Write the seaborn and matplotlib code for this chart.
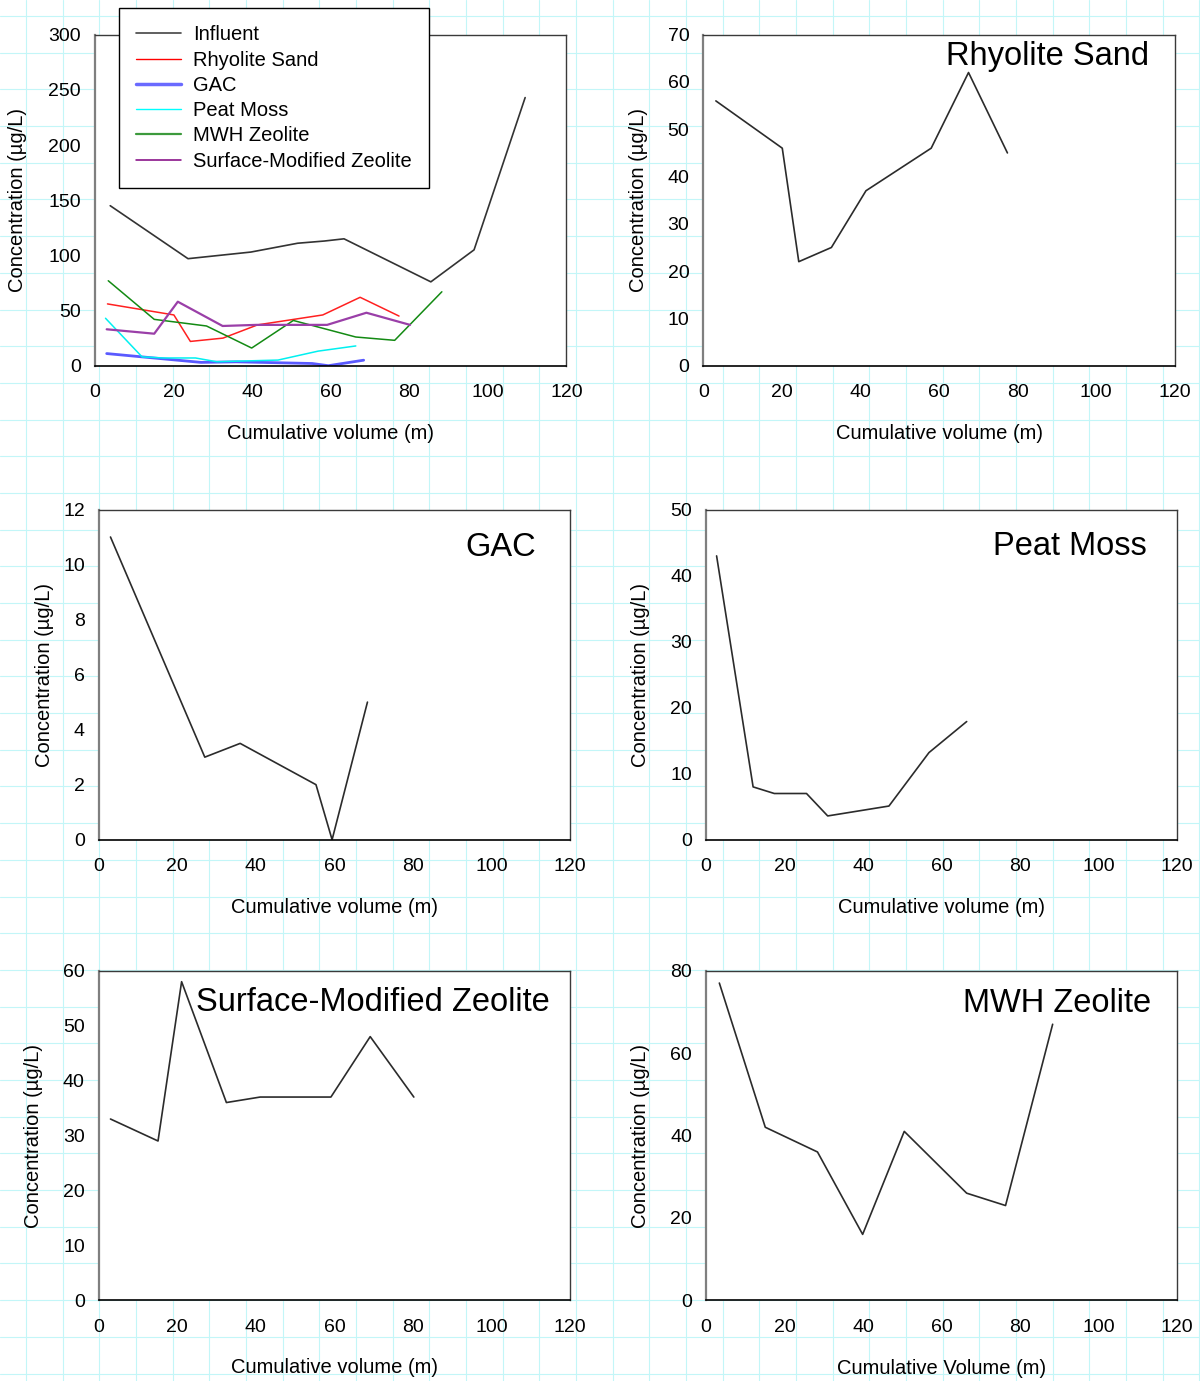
import numpy as np
import pandas as pd
import matplotlib
matplotlib.use("Agg")
import matplotlib.pyplot as plt
from matplotlib.lines import Line2D
import seaborn as sns

# ---- data: cumulative volume (m) and concentration (ug/L) per medium ----
influent_x = [3.9, 23.7, 39.7, 51.6, 58.4, 63.4, 85.5, 96.5, 109.5]
influent_y = [145, 97, 103, 111, 113, 115, 76, 105, 243]

rhyolite_x = [3.2, 20.1, 24.3, 32.6, 41.4, 58.0, 67.5, 77.4]
rhyolite_y = [56, 46, 22, 25, 37, 46, 62, 45]

gac_x = [3.0, 27.0, 36.0, 55.3, 59.4, 68.4]
gac_y = [11, 3, 3.5, 2, 0, 5]

peat_x = [2.7, 12.0, 17.4, 25.6, 31.0, 46.6, 56.8, 66.4]
peat_y = [43, 8, 7, 7, 3.6, 5.1, 13.2, 17.9]

mwh_x = [3.4, 15.1, 28.4, 39.9, 50.5, 66.4, 76.3, 88.3]
mwh_y = [77, 42, 36, 16, 41, 26, 23, 67]

smz_x = [3.0, 15.1, 21.1, 32.5, 41.1, 59.1, 69.1, 80.2]
smz_y = [33, 29, 58, 36, 37, 37, 48, 37]

series_names = ["Influent", "Rhyolite Sand", "GAC", "Peat Moss",
                "MWH Zeolite", "Surface-Modified Zeolite"]
x_ticks = [0, 20, 40, 60, 80, 100, 120]

sns.set_theme(style="white")
plt.rcParams["font.family"] = ["Liberation Sans", "DejaVu Sans"]
plt.rcParams["axes.unicode_minus"] = False
for k in ("text.color", "axes.labelcolor", "xtick.color", "ytick.color"):
    plt.rcParams[k] = "black"

W, H = 1200, 1381
fig = plt.figure(figsize=(W / 100, H / 100), dpi=100, facecolor="white")

# graph-paper background
bg = fig.add_axes([0, 0, 1, 1], zorder=-10)
bg.set_xlim(0, W)
bg.set_ylim(H, 0)
bg.set_xticks(np.arange(26, W, 36.67))
bg.set_yticks(np.arange(16, H, 36.69))
bg.grid(True, color="#c3f6f8", lw=0.8)
bg.tick_params(length=0, labelbottom=False, labelleft=False)
for s in bg.spines.values():
    s.set_visible(False)


def make_axes(left, right, top, bottom):
    return fig.add_axes([left / W, 1 - bottom / H, (right - left) / W, (bottom - top) / H])


def style_axes(ax, ymax, ystep, xlabel, ylab_px, xlab_py, box):
    left, right, top, bottom = box
    ax.set_facecolor("white")
    ax.set_xlim(0, 120)
    ax.set_ylim(0, ymax)
    ax.set_xticks(x_ticks)
    ax.set_yticks(np.arange(0, ymax + 0.001, ystep))
    ax.tick_params(axis="both", direction="out", length=4, width=1.1,
                   labelsize=14, colors="black")
    ax.tick_params(axis="x", pad=9.5)
    ax.tick_params(axis="y", pad=6, color="#7f7f7f")
    ax.grid(False)
    ax.spines["left"].set_color("#7f7f7f")
    ax.spines["left"].set_linewidth(1.6)
    ax.spines["bottom"].set_color("black")
    ax.spines["bottom"].set_linewidth(1.2)
    for k in ("top", "right"):
        ax.spines[k].set_visible(True)
        ax.spines[k].set_color("#3a3a3a")
        ax.spines[k].set_linewidth(1.0)
    ax.set_xlabel(xlabel, fontsize=14.5, va="center")
    ax.set_ylabel("Concentration (\u00b5g/L)", fontsize=14.5, va="center")
    wpx = right - left
    hpx = bottom - top
    ax.xaxis.set_label_coords(0.5, (bottom - xlab_py) / hpx)
    ax.yaxis.set_label_coords((ylab_px - left) / wpx, 0.5)


def title_px(text, x, y):
    fig.text(x / W, 1 - y / H, text, ha="right", va="baseline", fontsize=23.5)


# ---- panel 1: all media together ----
box1 = (94.9, 566.4, 34.7, 365.7)
ax1 = make_axes(*box1)
overview = [
    (influent_x, influent_y, "#333333", 1.2),
    (rhyolite_x, rhyolite_y, "#ff2020", 1.1),
    (gac_x, gac_y, "#5a5aff", 2.0),
    (peat_x, peat_y, "#00f0f0", 1.1),
    (mwh_x, mwh_y, "#138a13", 1.1),
    (smz_x, smz_y, "#9a3fa8", 1.6),
]
for name, (xs, ys, col, lw) in zip(series_names, overview):
    sns.lineplot(x=xs, y=ys, ax=ax1, color=col, lw=lw, label=name,
                 estimator=None, sort=False)
style_axes(ax1, 300, 50, "Cumulative volume (m)", 18, 434, box1)
handles, labels = ax1.get_legend_handles_labels()
leg_lw = [1.2, 1.0, 2.5, 1.0, 1.6, 1.1]
leg_col = ["#444444", "#ff0000", "#6a6aff", "#00ffff", "#3c9a3c", "#800080"]
handles = [Line2D([0], [0], color=c, lw=w) for c, w in zip(leg_col, leg_lw)]
leg = ax1.legend(handles, labels, loc="upper left",
                 bbox_to_anchor=(119.3 / W, 1 - 8.3 / H),
                 bbox_transform=fig.transFigure, borderaxespad=0,
                 fontsize=14.5, frameon=True, fancybox=False, shadow=False,
                 framealpha=1, edgecolor="black", handlelength=2.2,
                 handletextpad=0.6, labelspacing=0.31, borderpad=0.85)
leg.get_frame().set_linewidth(1.0)
leg.set_zorder(10)

# ---- individual media ----
panels = [
    ((703.3, 1174.8, 34.7, 365.7), rhyolite_x, rhyolite_y, 70, 10,
     "Cumulative volume (m)", 638.5, 434, "Rhyolite Sand", (1149.6, 65)),
    ((98.7, 570.2, 509.5, 839.7), gac_x, gac_y, 12, 2,
     "Cumulative volume (m)", 45, 907.5, "GAC", (535.8, 556)),
    ((706.0, 1177.1, 509.7, 839.7), peat_x, peat_y, 50, 10,
     "Cumulative volume (m)", 641, 908, "Peat Moss", (1146.5, 555)),
    ((98.7, 570.2, 970.7, 1300.3), smz_x, smz_y, 60, 10,
     "Cumulative volume (m)", 34, 1367.5, "Surface-Modified Zeolite", (549.6, 1010.7)),
    ((706.0, 1177.1, 970.7, 1300.3), mwh_x, mwh_y, 80, 20,
     "Cumulative Volume (m)", 641, 1368, "MWH Zeolite", (1151, 1011.7)),
]
for box, xs, ys, ymax, ystep, xl, ylx, xly, ttl, tpos in panels:
    ax = make_axes(*box)
    sns.lineplot(x=xs, y=ys, ax=ax, color="#2b2b2b", lw=1.2,
                 estimator=None, sort=False)
    style_axes(ax, ymax, ystep, xl, ylx, xly, box)
    title_px(ttl, *tpos)

fig.savefig("out.png", dpi=100, facecolor="white")
